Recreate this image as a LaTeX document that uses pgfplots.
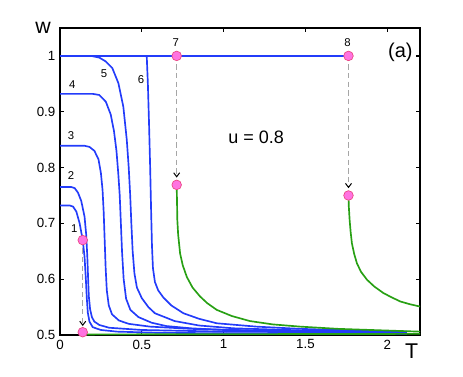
\documentclass[border=0pt]{standalone}
\usepackage{fontspec}
\setmainfont{Liberation Sans}
\usepackage{pgfplots}
\pgfplotsset{compat=1.18}
\usetikzlibrary{arrows.meta}
\definecolor{cblue}{RGB}{35,60,250}
\definecolor{cgreen}{RGB}{40,160,20}
\definecolor{cpink}{RGB}{255,115,225}
\definecolor{cedge}{RGB}{235,70,130}

\begin{document}
\begin{tikzpicture}
\begin{axis}[
    scale only axis,
    width=270pt, height=230.25pt,
    xmin=0, xmax=2.2, ymin=0.5, ymax=1.05,
    xtick={0,0.5,1,1.5,2},
    ytick={0.5,0.6,0.7,0.8,0.9,1},
    tick pos=both,
    tick align=inside,
    major tick length=3pt,
    axis line style={line width=1.4pt, black},
    every tick/.style={black, line width=0.9pt},
    tick label style={font=\fontsize{10}{12}\selectfont},
    /pgf/number format/assume math mode=true,
    clip=false,
    every axis plot/.append style={line width=1.25pt},
]
% blue curves
\addplot[cblue] coordinates {(0,0.732) (0.06,0.732) (0.08,0.730) (0.10,0.721) (0.12,0.700) (0.139,0.670) (0.150,0.640) (0.158,0.600) (0.164,0.565) (0.170,0.540) (0.180,0.524) (0.20,0.514) (0.25,0.509) (0.35,0.506) (0.6,0.504) (1.0,0.503) (2.12,0.502)};
\addplot[cblue] coordinates {(0,0.765) (0.07,0.765) (0.09,0.763) (0.11,0.755) (0.13,0.740) (0.15,0.712) (0.160,0.680) (0.167,0.640) (0.172,0.600) (0.176,0.570) (0.184,0.546) (0.195,0.532) (0.21,0.524) (0.24,0.518) (0.30,0.513) (0.5,0.509) (1.0,0.506) (2.12,0.504)};
\addplot[cblue] coordinates {(0,0.839) (0.15,0.839) (0.18,0.837) (0.21,0.830) (0.235,0.815) (0.250,0.790) (0.260,0.760) (0.267,0.720) (0.273,0.670) (0.279,0.620) (0.286,0.580) (0.298,0.553) (0.318,0.537) (0.36,0.526) (0.42,0.520) (0.55,0.515) (0.8,0.511) (1.2,0.508) (2.12,0.505)};
\addplot[cblue] coordinates {(0,0.932) (0.20,0.932) (0.24,0.930) (0.28,0.918) (0.31,0.895) (0.33,0.865) (0.345,0.830) (0.356,0.790) (0.365,0.750) (0.372,0.700) (0.379,0.650) (0.389,0.600) (0.404,0.565) (0.43,0.545) (0.48,0.532) (0.56,0.522) (0.65,0.516) (0.8,0.512) (1.0,0.509) (1.5,0.506) (2.12,0.504)};
\addplot[cblue] coordinates {(0,1) (0.19,1) (0.24,0.997) (0.28,0.990) (0.32,0.978) (0.357,0.951) (0.387,0.909) (0.408,0.850) (0.420,0.800) (0.429,0.750) (0.436,0.700) (0.444,0.650) (0.455,0.610) (0.47,0.585) (0.50,0.566) (0.54,0.550) (0.58,0.539) (0.70,0.525) (0.85,0.517) (1.06,0.512) (1.5,0.508) (2.12,0.506)};
\addplot[cblue] coordinates {(0.53,1) (0.537,0.950) (0.544,0.880) (0.551,0.800) (0.557,0.720) (0.562,0.660) (0.568,0.620) (0.58,0.595) (0.60,0.580) (0.632,0.567) (0.68,0.553) (0.754,0.539) (0.85,0.529) (0.958,0.521) (1.2,0.515) (1.468,0.511) (1.8,0.508) (2.12,0.506)};
\addplot[cblue] coordinates {(0,1) (1.763,1)};
% green curves
\addplot[cgreen] coordinates {(0.139,0.501) (1.0,0.5015) (2.2,0.502)};
\addplot[cgreen] coordinates {(0.713,0.769) (0.715,0.740) (0.717,0.706) (0.722,0.680) (0.734,0.646) (0.750,0.625) (0.775,0.604) (0.81,0.585) (0.856,0.569) (0.90,0.557) (0.958,0.545) (1.05,0.534) (1.16,0.525) (1.30,0.519) (1.468,0.515) (1.70,0.511) (2.0,0.508) (2.2,0.506)};
\addplot[cgreen] coordinates {(1.763,0.750) (1.765,0.730) (1.770,0.706) (1.776,0.685) (1.784,0.664) (1.798,0.645) (1.815,0.628) (1.84,0.613) (1.876,0.599) (1.92,0.587) (1.977,0.575) (2.03,0.567) (2.08,0.560) (2.14,0.555) (2.2,0.551)};
% transitions
\draw[gray!70, dash pattern=on 4pt off 2.5pt, line width=0.75pt, -{Straight Barb[black, length=3pt, width=4.5pt]}] (axis cs:0.139,0.655) -- (axis cs:0.139,0.516);
\draw[gray!70, dash pattern=on 4pt off 2.5pt, line width=0.75pt, -{Straight Barb[black, length=3pt, width=4.5pt]}] (axis cs:0.713,0.985) -- (axis cs:0.713,0.782);
\draw[gray!70, dash pattern=on 4pt off 2.5pt, line width=0.75pt, -{Straight Barb[black, length=3pt, width=4.5pt]}] (axis cs:1.763,0.985) -- (axis cs:1.763,0.763);
% points
\addplot[only marks, mark=*, mark size=3.6pt, mark options={fill=cpink, draw=cedge, line width=0.5pt}] coordinates {(0.139,0.670) (0.139,0.505) (0.713,1) (0.713,0.769) (1.763,1) (1.763,0.750)};
% labels
\node[font=\fontsize{8.5}{10}\selectfont] at (axis cs:0.088,0.691) {1};
\node[font=\fontsize{8.5}{10}\selectfont] at (axis cs:0.067,0.785) {2};
\node[font=\fontsize{8.5}{10}\selectfont] at (axis cs:0.067,0.857) {3};
\node[font=\fontsize{8.5}{10}\selectfont] at (axis cs:0.075,0.948) {4};
\node[font=\fontsize{8.5}{10}\selectfont] at (axis cs:0.269,0.969) {5};
\node[font=\fontsize{8.5}{10}\selectfont] at (axis cs:0.495,0.957) {6};
\node[font=\fontsize{8.5}{10}\selectfont] at (axis cs:0.708,1.0245) {7};
\node[font=\fontsize{8.5}{10}\selectfont] at (axis cs:1.757,1.023) {8};
\node[font=\fontsize{13.5}{16}\selectfont] at (axis cs:1.199,0.855) {u = 0.8};
\node[font=\fontsize{15}{18}\selectfont] at (axis cs:2.08,1.007) {(a)};
\node[font=\fontsize{16}{18}\selectfont] at (rel axis cs:-0.047,1.0) {w};
\node[font=\fontsize{16}{18}\selectfont] at (rel axis cs:0.977,-0.054) {T};
\end{axis}
\path ([xshift=-45pt,yshift=-31.5pt]current axis.south west) rectangle ([xshift=32.25pt,yshift=21pt]current axis.north east);
\end{tikzpicture}
\end{document}
